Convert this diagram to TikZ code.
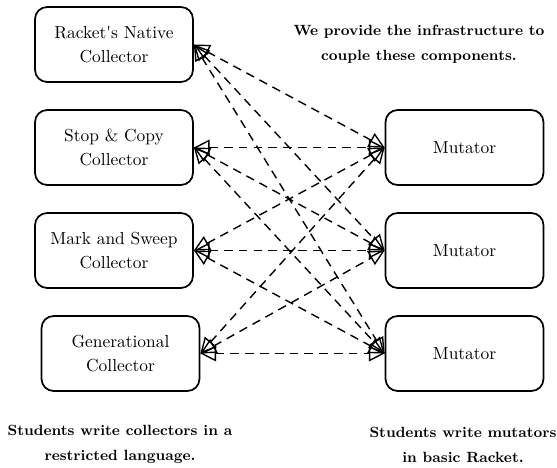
\documentclass[tikz,border=0pt]{standalone}
\usetikzlibrary{arrows.meta}
\begin{document}
\begin{tikzpicture}[x=0.5747pt,y=-0.5747pt,
  box/.style={draw, line width=1pt, rounded corners=7pt, minimum width=158*0.5747pt, minimum height=75*0.5747pt, align=center, inner sep=0pt},
  link/.style={line width=0.8pt, dash pattern=on 5pt off 3.5pt, {Triangle[open,length=9pt,width=9pt]}-{Triangle[open,length=9pt,width=9pt]}},
  note/.style={font=\fontsize{8.5}{14.4}\selectfont\bfseries, align=center, inner sep=0pt}]
\useasboundingbox (0,0) rectangle (557,468);
\node[box] (c1) at (114,44.5) {Racket\textquotesingle s Native\\[2pt]Collector};
\node[box] (c2) at (114,147.5) {Stop \& Copy\\[2pt]Collector};
\node[box] (c3) at (114,250.5) {Mark and Sweep\\[2pt]Collector};
\node[box] (c4) at (120.5,353.5) {Generational\\[2pt]Collector};
\node[box] (m1) at (464.5,147.5) {Mutator};
\node[box] (m2) at (464.5,250.5) {Mutator};
\node[box] (m3) at (464.5,353.5) {Mutator};
\foreach \c in {c1,c2,c3,c4}{
  \foreach \m in {m1,m2,m3}{
    \draw[link] (\c.east) -- (\m.west);
  }
}
\node[note] (t1) at (419,44.5) {We provide the infrastructure to\\couple these components.};
\node[note] (t2) at (120,444.5) {Students write collectors in a\\restricted language.};
\node[note] (t3) at (463,444.5) {Students write mutators\\in basic Racket.};
\end{tikzpicture}
\end{document}
